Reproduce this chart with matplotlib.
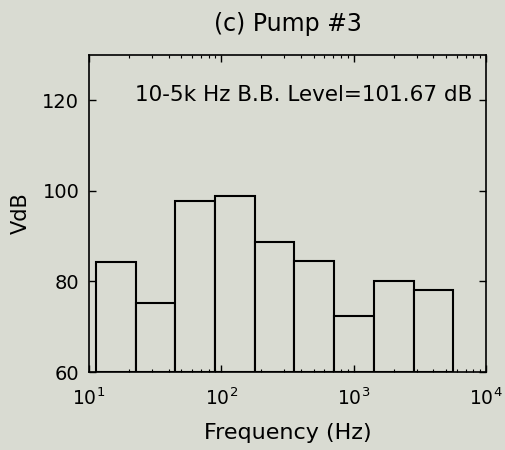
import numpy as np
import matplotlib
matplotlib.use("Agg")
import matplotlib.pyplot as plt

# octave bands (Hz): lower/upper edges and level in VdB
band_lo = [11.3, 22.6, 45, 90, 180, 355, 710, 1420, 2840]
band_hi = [22.6, 45, 90, 180, 355, 710, 1420, 2840, 5680]
levels = [84.2, 75.3, 97.8, 98.9, 88.7, 84.5, 72.4, 80.0, 78.1]
yticks = [60, 80, 100, 120]
bb_label = "10-5k Hz B.B. Level=101.67 dB"

bg = "#d9dbd2"
plt.rcParams["font.family"] = ["DejaVu Sans"]

fig = plt.figure(figsize=(5.05, 4.5), dpi=100, facecolor=bg)
ax = fig.add_axes([89 / 505, 1 - 372 / 450, (486 - 89) / 505, (372 - 55) / 450])
ax.set_facecolor(bg)

widths = np.array(band_hi) - np.array(band_lo)
ax.bar(band_lo, np.array(levels) - 60, width=widths, bottom=60, align="edge",
       facecolor=bg, edgecolor="black", linewidth=1.5)

ax.set_xscale("log")
ax.set_xlim(10, 1e4)
ax.set_ylim(60, 130)
ax.set_yticks(yticks)
ax.tick_params(which="both", direction="in", top=True, right=True)
ax.tick_params(which="major", length=5, width=1)
ax.tick_params(which="minor", length=2.5, width=0.8)
ax.tick_params(axis="x", which="major", pad=11, labelsize=13.5)
ax.tick_params(axis="y", which="major", pad=7, labelsize=14)
for s in ax.spines.values():
    s.set_linewidth(1.2)

ax.text(0.965, 0.875, bb_label, transform=ax.transAxes, ha="right", va="center",
        fontsize=15.5)
ax.set_xlabel("Frequency (Hz)", fontsize=16, labelpad=10)
ax.set_ylabel("VdB", fontsize=15, labelpad=8)
ax.set_title("(c) Pump #3", fontsize=17, pad=17)

fig.savefig("out.png", dpi=100, facecolor=bg)
